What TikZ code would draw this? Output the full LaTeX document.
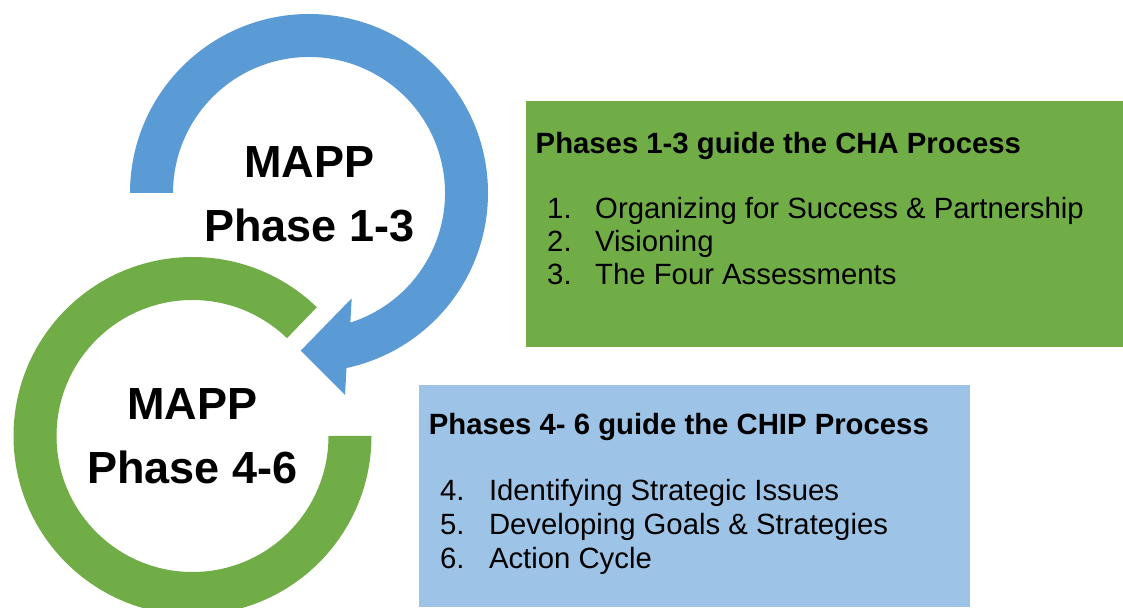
\documentclass[tikz,border=0pt]{standalone}
\usepackage{fontspec}
\setmainfont{Liberation Sans}
\usepackage{tikz}
\definecolor{mappblue}{HTML}{5B9BD5}
\definecolor{mappgreen}{HTML}{70AD47}
\definecolor{chipblue}{HTML}{9DC3E6}

\begin{document}
\begin{tikzpicture}[x=1pt,y=1pt,
  phase/.style={black, font=\fontsize{45}{54}\selectfont\bfseries, anchor=base, inner sep=0pt},
  head/.style={black, font=\fontsize{29.3}{34}\selectfont\bfseries, anchor=base west, inner sep=0pt},
  item/.style={black, font=\fontsize{29.3}{34}\selectfont, anchor=base west, inner sep=0pt}]
  \useasboundingbox (0,0) rectangle (1123,607);
  % green ring, open at the upper right
  \fill[mappgreen] ([shift={(192.5,171)}]46:179) arc[start angle=46, end angle=360, radius=179]
     -- ([shift={(192.5,171)}]0:136) arc[start angle=360, end angle=46, radius=136] -- cycle;
  % blue circular arrow
  \fill[mappblue] (130,414) arc[start angle=180, end angle=-77.9, radius=179]
     -- (345,212) -- (300.7,256.3) -- (351.7,308.7)
     -- ([shift={(309,414)}]-72.3:136) arc[start angle=-72.3, end angle=180, radius=136] -- cycle;
  \node[phase] (mapp1) at (309.5,429) {MAPP};
  \node[phase] (phase1) at (309.5,365) {Phase 1-3};
  \node[phase] (mapp2) at (192.5,187) {MAPP};
  \node[phase] (phase2) at (192.5,123) {Phase 4-6};
  % boxes
  \fill[mappgreen] (526,260) rectangle (1123,506);
  \fill[chipblue] (419,0) rectangle (970,222);
  \node[head] (chahead) at (535.5,453.7) {Phases 1-3 guide the CHA Process};
  \foreach \n/\t [count=\i] in {1/Organizing for Success \& Partnership, 2/Visioning, 3/The Four Assessments}{
    \node[item] (chanum\n) at (547,422.2-33.4*\i) {\n.};
    \node[item] (cha\n) at (595,422.2-33.4*\i) {\t};
  }
  \node[head] (chiphead) at (428.7,172) {Phases 4- 6 guide the CHIP Process};
  \foreach \n/\t [count=\i] in {4/Identifying Strategic Issues, 5/Developing Goals \& Strategies, 6/Action Cycle}{
    \node[item] (chipnum\n) at (440,140.5-34*\i) {\n.};
    \node[item] (chip\n) at (488.8,140.5-34*\i) {\t};
  }
\end{tikzpicture}
\end{document}
